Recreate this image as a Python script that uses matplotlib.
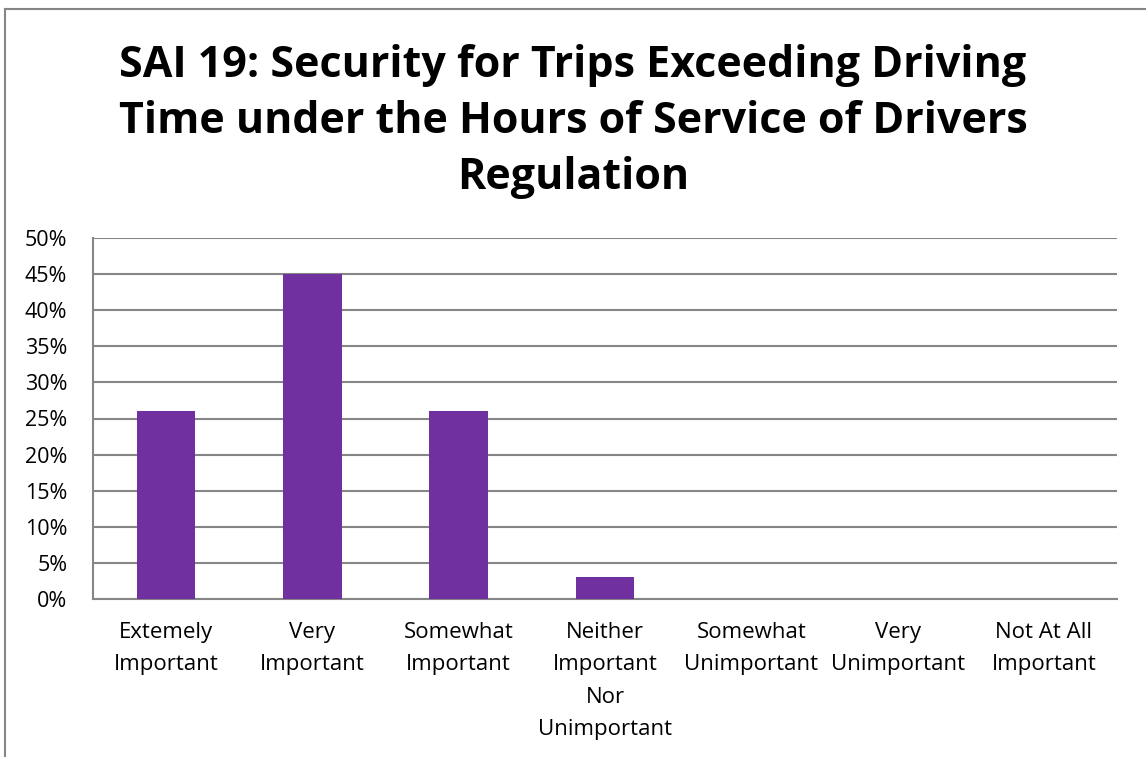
import matplotlib
matplotlib.use("Agg")
import matplotlib.pyplot as plt
from matplotlib.ticker import PercentFormatter

categories = ["Extemely\nImportant", "Very\nImportant", "Somewhat\nImportant",
              "Neither\nImportant\nNor\nUnimportant", "Somewhat\nUnimportant",
              "Very\nUnimportant", "Not At All\nImportant"]
values = [26, 45, 26, 3, 0, 0, 0]
yticks = [0, 5, 10, 15, 20, 25, 30, 35, 40, 45, 50]
title = "SAI 19: Security for Trips Exceeding Driving\nTime under the Hours of Service of Drivers\nRegulation"

plt.rcParams['font.family'] = ['Open Sans', 'DejaVu Sans']
W, H = 1146, 757
fig = plt.figure(figsize=(W/100, H/100), dpi=100)
ax = fig.add_axes([93/W, 1-599/H, (1117-93)/W, (599-238)/H])

x = range(len(categories))
ax.bar(x, values, width=0.4, color="#7030A0", zorder=3)
ax.set_xlim(-0.5, len(categories)-0.5)
ax.set_ylim(0, 50)
ax.set_yticks(yticks)
ax.yaxis.set_major_formatter(PercentFormatter(decimals=0))
ax.set_xticks(list(x))
ax.set_xticklabels(categories, fontsize=16, linespacing=1.72)
ax.tick_params(axis='y', labelsize=15.5, length=0, pad=18.5)
ax.tick_params(axis='x', length=0, pad=16.5)
ax.grid(axis='y', color="#868686", linewidth=1.5, zorder=0)
for s in ['top', 'right']:
    ax.spines[s].set_visible(False)
for s in ['left', 'bottom']:
    ax.spines[s].set_color("#868686")
    ax.spines[s].set_linewidth(1.5)

fig.text(573/W, 1-189/H, title, ha='center', va='baseline', fontsize=31,
         fontweight='bold', linespacing=1.40)

# figure frame (left and top only visible)
fig.add_artist(plt.Line2D([4.5/W, 4.5/W], [0, 1-8.5/H], transform=fig.transFigure,
                          color="#868686", linewidth=1.5))
fig.add_artist(plt.Line2D([4.5/W, 1], [1-8.5/H, 1-8.5/H], transform=fig.transFigure,
                          color="#868686", linewidth=1.5))

fig.savefig("out.png", dpi=100)
